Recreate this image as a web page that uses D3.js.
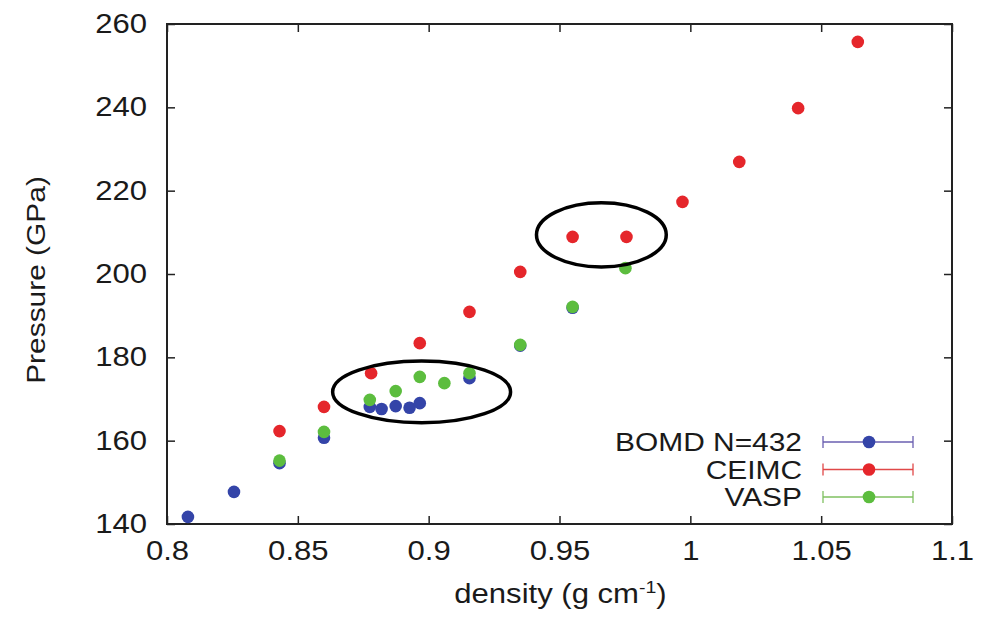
<!DOCTYPE html>
<html>
<head>
<meta charset="utf-8">
<script src="https://cdn.jsdelivr.net/npm/d3@7"></script>
<style>
  body { margin: 0; background: #fff; }
  text { font-family: "Liberation Sans", Arial, sans-serif; fill: #1a1a1a; }
</style>
</head>
<body>
<div id="chart"></div>
<script>
// data: density (g/cm^3) and pressure (GPa)
const bomdDensity = [0.808, 0.8256, 0.843, 0.860, 0.8775, 0.882, 0.8874, 0.8927, 0.8966, 0.9156, 0.935, 0.955];
const bomdPressure = [141.7, 147.7, 154.6, 160.7, 168.1, 167.6, 168.3, 167.9, 169.0, 175.0, 182.8, 191.9];

const ceimcDensity = [0.843, 0.860, 0.878, 0.8966, 0.9156, 0.935, 0.955, 0.9756, 0.997, 1.0187, 1.0412, 1.064];
const ceimcPressure = [162.3, 168.1, 176.2, 183.4, 190.9, 200.5, 208.9, 208.9, 217.3, 226.9, 239.8, 255.7];

const vaspDensity = [0.843, 0.860, 0.8775, 0.8874, 0.8966, 0.906, 0.9156, 0.935, 0.955, 0.9752];
const vaspPressure = [155.2, 162.1, 169.8, 171.9, 175.3, 173.8, 176.2, 183.0, 192.1, 201.4];

const xTicks = [0.8, 0.85, 0.9, 0.95, 1, 1.05, 1.1];
const yTicks = [140, 160, 180, 200, 220, 240, 260];

// hand drawn ellipses (centre and radii in data units)
const ellipseCx = [0.8973, 0.966];
const ellipseCy = [171.7, 209.4];
const ellipseRx = [0.034, 0.0248];
const ellipseRy = [7.4, 7.7];

const series = [
  { name: "BOMD N=432", xs: bomdDensity, ys: bomdPressure, dot: "#3444a8", line: "#6a5fb0" },
  { name: "CEIMC", xs: ceimcDensity, ys: ceimcPressure, dot: "#e5262b", line: "#e04848" },
  { name: "VASP", xs: vaspDensity, ys: vaspPressure, dot: "#5cbd3e", line: "#7fc060" }
];

const width = 984, height = 619;
const margin = { left: 167, right: 32, top: 24, bottom: 95 };
const stretch = 1.15; // the original lettering is a bit wider than Liberation Sans

const svg = d3.select("#chart").append("svg")
  .attr("width", width)
  .attr("height", height);

const x = d3.scaleLinear().domain([0.8, 1.1]).range([margin.left, width - margin.right]);
const y = d3.scaleLinear().domain([140, 260]).range([height - margin.bottom, margin.top]);

const fmtX = d => d === 1 ? "1" : String(d);

// ticks, inward on all four sides (gnuplot style)
const tickLen = 8;
svg.append("g")
  .attr("transform", `translate(0,${y(140)})`)
  .call(d3.axisBottom(x).tickValues(xTicks).tickSize(-tickLen).tickPadding(17).tickFormat(fmtX))
  .call(g => g.select(".domain").remove());
svg.append("g")
  .attr("transform", `translate(0,${y(260)})`)
  .call(d3.axisTop(x).tickValues(xTicks).tickSize(-tickLen).tickFormat(""))
  .call(g => g.select(".domain").remove());
svg.append("g")
  .attr("transform", `translate(${x(0.8)},0)`)
  .call(d3.axisLeft(y).tickValues(yTicks).tickSize(-tickLen).tickPadding(20))
  .call(g => g.select(".domain").remove());
svg.append("g")
  .attr("transform", `translate(${x(1.1)},0)`)
  .call(d3.axisRight(y).tickValues(yTicks).tickSize(-tickLen).tickFormat(""))
  .call(g => g.select(".domain").remove());

svg.selectAll(".tick line").attr("stroke", "#222").attr("stroke-width", 1.5);
svg.selectAll(".tick text").attr("font-size", 27).attr("fill", "#1a1a1a")
  .attr("font-family", "Liberation Sans, Arial, sans-serif");

// frame
svg.append("rect")
  .attr("x", x(0.8))
  .attr("y", y(260))
  .attr("width", x(1.1) - x(0.8))
  .attr("height", y(140) - y(260))
  .attr("fill", "none")
  .attr("stroke", "#222")
  .attr("stroke-width", 2);

// axis titles
svg.append("text")
  .attr("transform", `translate(45,${(y(140) + y(260)) / 2 + 6}) rotate(-90)`)
  .attr("text-anchor", "middle")
  .attr("font-size", 26)
  .text("Pressure (GPa)");

const xt = svg.append("text")
  .attr("x", (x(0.8) + x(1.1)) / 2 + 1)
  .attr("y", 603)
  .attr("text-anchor", "middle")
  .attr("font-size", 27)
  .text("density (g cm");
xt.append("tspan").attr("dy", -10).attr("font-size", 17).text("-1");
xt.append("tspan").attr("dy", 10).text(")");

// points
series.forEach(s => {
  svg.append("g").selectAll("circle")
    .data(s.xs.map((v, i) => [v, s.ys[i]]))
    .enter()
    .append("circle")
    .attr("cx", d => x(d[0]))
    .attr("cy", d => y(d[1]))
    .attr("r", 6.3)
    .attr("fill", s.dot);
});

// ellipses
ellipseCx.forEach((cx, i) => {
  svg.append("ellipse")
    .attr("cx", x(cx))
    .attr("cy", y(ellipseCy[i]))
    .attr("rx", x(cx + ellipseRx[i]) - x(cx))
    .attr("ry", y(ellipseCy[i]) - y(ellipseCy[i] + ellipseRy[i]))
    .attr("fill", "none")
    .attr("stroke", "#000")
    .attr("stroke-width", 3.5);
});

// legend
const legend = svg.append("g");
series.forEach((s, i) => {
  const ly = 442 + i * 27.5;
  legend.append("text")
    .attr("x", 802)
    .attr("y", ly)
    .attr("dy", "0.36em")
    .attr("text-anchor", "end")
    .attr("font-size", 26)
    .text(s.name);
  legend.append("line")
    .attr("x1", 823).attr("x2", 913)
    .attr("y1", ly).attr("y2", ly)
    .attr("stroke", s.line).attr("stroke-width", 1.3);
  [823, 913].forEach(cx => {
    legend.append("line")
      .attr("x1", cx).attr("x2", cx)
      .attr("y1", ly - 6).attr("y2", ly + 6)
      .attr("stroke", s.line).attr("stroke-width", 1.3);
  });
  legend.append("circle")
    .attr("cx", 869).attr("cy", ly)
    .attr("r", 6.3)
    .attr("fill", s.dot);
});

// widen every label a little to match the original lettering
svg.selectAll("text").each(function () {
  const len = this.getComputedTextLength();
  if (len > 0) {
    d3.select(this)
      .attr("textLength", len * stretch)
      .attr("lengthAdjust", "spacingAndGlyphs");
  }
});
</script>
</body>
</html>
